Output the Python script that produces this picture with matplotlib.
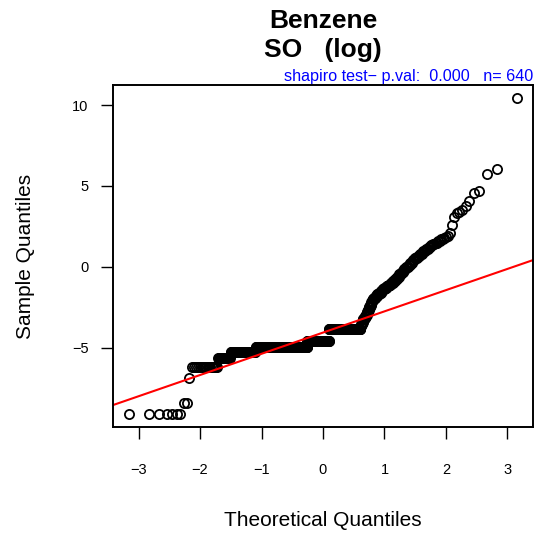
import matplotlib
matplotlib.use("Agg")
import matplotlib.pyplot as plt
import numpy as np
from statistics import NormalDist

# sorted sample values (log scale), as level -> how many points
levels = [-9.12, -8.43, -6.89, -6.19, -5.66, -5.29, -4.95, -4.61, -3.87,
          -3.68, -3.52, -3.38, -3.25, -3.18, -3.05,
          -2.95, -2.8, -2.65, -2.5, -2.35, -2.2, -2.1,
          -2.0, -1.9, -1.8, -1.7, -1.6, -1.5,
          -1.4, -1.3, -1.2, -1.1, -1.0, -0.88,
          -0.75, -0.6, -0.45, -0.3, -0.15, 0.0,
          0.1, 0.25, 0.4, 0.55, 0.7,
          0.8, 0.95, 1.1, 1.2, 1.32,
          1.4, 1.5, 1.6, 1.72, 1.8,
          1.84, 1.88, 2.12, 2.56, 3.11, 3.30, 3.36, 3.54, 3.79,
          4.04, 4.59, 4.66, 5.71, 6.08, 10.46]
counts = [7, 2, 1, 18, 14, 45, 168, 90, 122,
          2, 3, 3, 4, 3, 3,
          3, 3, 3, 4, 3, 2, 2,
          4, 5, 5, 5, 5, 4,
          5, 5, 5, 5, 5, 5,
          4, 4, 4, 4, 4, 4,
          3, 3, 3, 4, 3,
          3, 3, 3, 2, 2,
          2, 2, 2, 2, 1,
          1, 1, 1, 1, 1, 1, 1, 1, 1,
          1, 1, 1, 1, 1, 1]

title_lines = ["Benzene", "SO   (log)"]
subtitle = "shapiro test\u2212 p.val:  0.000   n= 640"
xticks = [-3, -2, -1, 0, 1, 2, 3]
yticks = [-5, 0, 5, 10]

sample = np.repeat(levels, counts)
n = len(sample)
nd = NormalDist()
theo = np.array([nd.inv_cdf((i - 0.5) / n) for i in range(1, n + 1)])

# qqline through the quartiles, like R
qy = np.quantile(sample, [0.25, 0.75])
qx = np.array([nd.inv_cdf(0.25), nd.inv_cdf(0.75)])
slope = (qy[1] - qy[0]) / (qx[1] - qx[0])
icpt = qy[0] - slope * qx[0]

plt.rcParams['font.family'] = ['Liberation Sans', 'DejaVu Sans']

W, H = 537, 533
fig = plt.figure(figsize=(W / 100, H / 100), dpi=100)
ax = fig.add_axes([113 / W, (H - 427) / H, 420 / W, 342 / H])

ax.plot(theo, sample, 'o', mfc='none', mec='black', ms=6.6, mew=1.3)
ax.axline((0, icpt), slope=slope, color='red', lw=1.5)

xr = theo.max() - theo.min()
yr = sample.max() - sample.min()
ax.set_xlim(theo.min() - 0.04 * xr, theo.max() + 0.04 * xr)
ax.set_ylim(sample.min() - 0.04 * yr, sample.max() + 0.04 * yr)

ax.set_xticks(xticks)
ax.set_yticks(yticks)
ax.tick_params(axis='x', length=8.6, width=1.0, pad=17, labelsize=10.5)
ax.tick_params(axis='y', length=8.6, width=1.0, pad=9, labelsize=10.5)
for s in ax.spines.values():
    s.set_linewidth(1.4)

fig.text(323 / W, 1 - 28 / H, title_lines[0], ha='center', va='baseline',
         fontsize=19, fontweight='bold')
fig.text(323 / W, 1 - 57 / H, title_lines[1], ha='center', va='baseline',
         fontsize=19, fontweight='bold')
fig.text(533 / W, 1 - 81 / H, subtitle, ha='right', va='baseline',
         fontsize=11.6, color='blue')
fig.text(323 / W, 1 - 526 / H, "Theoretical Quantiles", ha='center',
         va='baseline', fontsize=15)
fig.text(26 / W, 1 - 256 / H, "Sample Quantiles", ha='center', va='center',
         rotation=90, fontsize=15)

fig.savefig("out.png", dpi=100)
